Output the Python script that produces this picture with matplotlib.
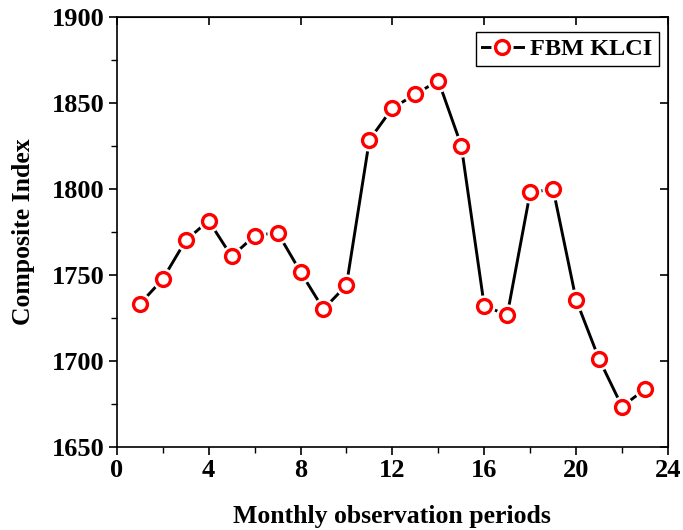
import numpy as np
import matplotlib
matplotlib.use('Agg')
import matplotlib.pyplot as plt
from matplotlib.ticker import MultipleLocator
from matplotlib.legend_handler import HandlerTuple

# monthly FBM KLCI composite index
period = list(range(1, 24))
klci = [1733, 1747.5, 1770, 1781.5, 1760.7, 1772.7, 1774.6, 1751.7, 1730, 1744,
        1828.5, 1847, 1855, 1863, 1825.2, 1732, 1726.6, 1798, 1799.8, 1735.5,
        1701, 1673.4, 1683.5]

plt.rcParams['font.family'] = ['Liberation Serif', 'DejaVu Serif']
plt.rcParams['font.weight'] = 'bold'

fig = plt.figure(figsize=(6.83, 5.3), dpi=100)
ax = fig.add_axes([0.171, 0.157, 0.807, 0.811])

# line with small gaps at the markers (white halo under each marker)
ln, = ax.plot(period, klci, color='black', lw=2.1, zorder=2)
halo, = ax.plot(period, klci, ls='none', marker='o', ms=15, mfc='white', mec='white', zorder=3)
mk, = ax.plot(period, klci, ls='none', marker='o', ms=10, mfc='white', mec='red', mew=2.4, zorder=4)

leg = ax.legend([(ln, halo, mk)], ['FBM KLCI'], loc='upper right', fontsize=17.5,
                handlelength=1.7, handler_map={tuple: HandlerTuple(ndivide=1)},
                fancybox=False, edgecolor='black', framealpha=1, borderpad=0.25,
                handletextpad=0.3, borderaxespad=0, bbox_to_anchor=(0.983, 0.965))
leg.get_frame().set_linewidth(1.0)

ax.set_xlim(0, 24)
ax.set_ylim(1650, 1900)
ax.xaxis.set_major_locator(MultipleLocator(4))
ax.xaxis.set_minor_locator(MultipleLocator(2))
ax.yaxis.set_major_locator(MultipleLocator(50))
ax.yaxis.set_minor_locator(MultipleLocator(25))

ax.tick_params(which='major', direction='out', length=6, width=1.2, labelsize=19, pad=3)
ax.tick_params(which='minor', direction='out', length=4, width=1.0)

# inward major ticks on top and right
tx = ax.secondary_xaxis('top')
tx.set_xticks(np.arange(0, 25, 4))
tx.tick_params(direction='in', length=6, width=1.2, labeltop=False)
tx.xaxis.set_minor_locator(plt.NullLocator())
ty = ax.secondary_yaxis('right')
ty.set_yticks(np.arange(1650, 1901, 50))
ty.tick_params(direction='in', length=6, width=1.2, labelright=False)
ty.yaxis.set_minor_locator(plt.NullLocator())

for s in ax.spines.values():
    s.set_linewidth(1.2)

ax.set_xlabel('Monthly observation periods', fontsize=18.5, fontweight='bold', labelpad=16)
ax.set_ylabel('Composite Index', fontsize=18.5, fontweight='bold', labelpad=12)

fig.savefig('out.png', dpi=100)
